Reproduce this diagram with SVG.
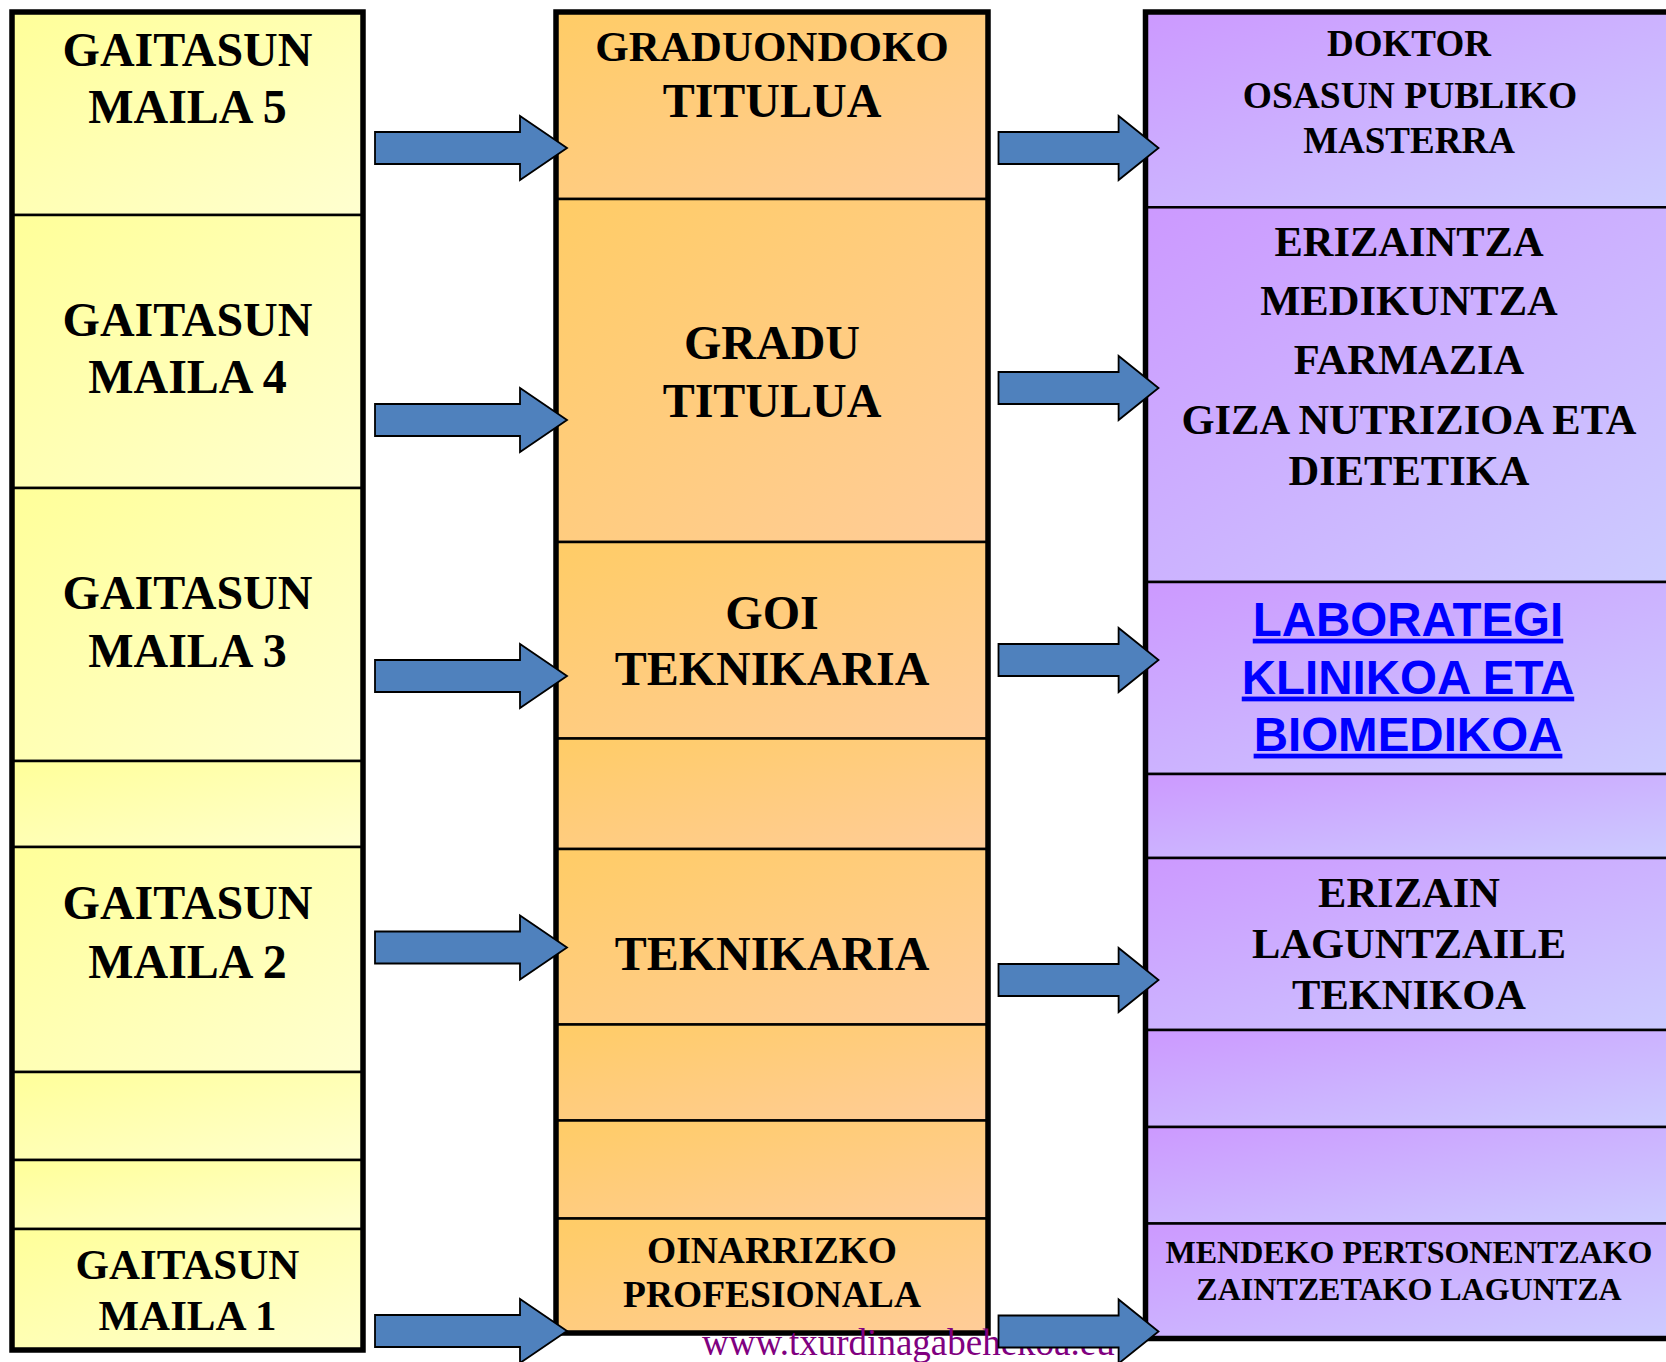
<svg xmlns="http://www.w3.org/2000/svg" width="1666" height="1362" viewBox="0 0 1666 1362">
<defs>
<linearGradient id="gY" x1="0" y1="0" x2="1" y2="1"><stop offset="0" stop-color="#FFFF99"/><stop offset="1" stop-color="#FFFFD0"/></linearGradient>
<linearGradient id="gO" x1="0" y1="0" x2="1" y2="1"><stop offset="0" stop-color="#FFCC66"/><stop offset="1" stop-color="#FFCC99"/></linearGradient>
<linearGradient id="gP" x1="0" y1="0" x2="1" y2="1"><stop offset="0" stop-color="#CC99FF"/><stop offset="1" stop-color="#CCCCFF"/></linearGradient>
<style>
.cy{fill:url(#gY);stroke:#000;stroke-width:2.5}
.co{fill:url(#gO);stroke:#000;stroke-width:2.5}
.cp{fill:url(#gP);stroke:#000;stroke-width:2.5}
.frame{fill:none;stroke:#000;stroke-width:5.5}
.t{font-family:"Liberation Serif","Times New Roman",serif;font-weight:bold;fill:#000;text-anchor:middle}
.l{font-family:"Liberation Sans",Arial,sans-serif;font-weight:bold;fill:#0000FF;text-anchor:middle;text-decoration:underline}
.arr{fill:#4F81BD;stroke:#000;stroke-width:1.8;stroke-linejoin:miter}
.wm{font-family:"Liberation Serif","Times New Roman",serif;fill:#800080;font-size:37px}
</style>
</defs>
<rect width="1666" height="1362" fill="#fff"/>

<!-- Left column -->
<g id="left-column">
<g id="maila5"><rect class="cy" x="12" y="12" width="351" height="203"/>
<text class="t" font-size="48" x="187.5" y="65.7">GAITASUN</text><text class="t" font-size="48" x="187.5" y="123.3">MAILA 5</text></g>
<g id="maila4"><rect class="cy" x="12" y="215" width="351" height="273"/>
<text class="t" font-size="48" x="187.5" y="335.7">GAITASUN</text><text class="t" font-size="48" x="187.5" y="393.3">MAILA 4</text></g>
<g id="maila3"><rect class="cy" x="12" y="488" width="351" height="273"/>
<text class="t" font-size="48" x="187.5" y="608.6">GAITASUN</text><text class="t" font-size="48" x="187.5" y="666.8">MAILA 3</text></g>
<g id="left-empty1"><rect class="cy" x="12" y="761" width="351" height="86"/></g>
<g id="maila2"><rect class="cy" x="12" y="847" width="351" height="225"/>
<text class="t" font-size="48" x="187.5" y="919.3">GAITASUN</text><text class="t" font-size="48" x="187.5" y="977.5">MAILA 2</text></g>
<g id="left-empty2"><rect class="cy" x="12" y="1072" width="351" height="88"/></g>
<g id="left-empty3"><rect class="cy" x="12" y="1160" width="351" height="69"/></g>
<g id="maila1"><rect class="cy" x="12" y="1229" width="351" height="121"/>
<text class="t" font-size="43" x="187.5" y="1279">GAITASUN</text><text class="t" font-size="43" x="187.5" y="1330">MAILA 1</text></g>
<rect class="frame" x="12" y="12" width="351" height="1338"/>
</g>

<!-- Middle column -->
<g id="middle-column">
<g id="graduondoko"><rect class="co" x="556" y="12" width="432" height="187"/>
<text class="t" font-size="43" x="772" y="61">GRADUONDOKO</text><text class="t" font-size="48" x="772" y="117.3">TITULUA</text></g>
<g id="gradu"><rect class="co" x="556" y="199" width="432" height="343"/>
<text class="t" font-size="48" x="772" y="359">GRADU</text><text class="t" font-size="48" x="772" y="416.7">TITULUA</text></g>
<g id="goi-teknikaria"><rect class="co" x="556" y="542" width="432" height="196.5"/>
<text class="t" font-size="48" x="772" y="628.6">GOI</text><text class="t" font-size="48" x="772" y="685.4">TEKNIKARIA</text></g>
<g id="mid-empty1"><rect class="co" x="556" y="738.5" width="432" height="110.5"/></g>
<g id="teknikaria"><rect class="co" x="556" y="849" width="432" height="175.5"/>
<text class="t" font-size="48" x="772" y="970.4">TEKNIKARIA</text></g>
<g id="mid-empty2"><rect class="co" x="556" y="1024.5" width="432" height="96"/></g>
<g id="mid-empty3"><rect class="co" x="556" y="1120.5" width="432" height="98"/></g>
<g id="oinarrizko"><rect class="co" x="556" y="1218.5" width="432" height="114.5"/>
<text class="t" font-size="37.5" x="772" y="1262.7">OINARRIZKO</text><text class="t" font-size="37.5" x="772" y="1307.3">PROFESIONALA</text></g>
<rect class="frame" x="556" y="12" width="432" height="1321"/>
</g>

<!-- Right column -->
<g id="right-column">
<g id="doktor"><rect class="cp" x="1145.5" y="12" width="535" height="195.3"/>
<text class="t" font-size="37" x="1409" y="56">DOKTOR</text><text class="t" font-size="37.5" x="1410" y="108.3">OSASUN PUBLIKO</text><text class="t" font-size="37" x="1409" y="152.7">MASTERRA</text></g>
<g id="graduak"><rect class="cp" x="1145.5" y="207.3" width="535" height="374.7"/>
<text class="t" font-size="42.5" x="1409" y="256">ERIZAINTZA</text><text class="t" font-size="42.5" x="1409" y="315">MEDIKUNTZA</text><text class="t" font-size="42.5" x="1409" y="374">FARMAZIA</text><text class="t" font-size="42.5" x="1409" y="434">GIZA NUTRIZIOA ETA</text><text class="t" font-size="42.5" x="1409" y="485.3">DIETETIKA</text></g>
<g id="laborategi"><rect class="cp" x="1145.5" y="582" width="535" height="192"/>
<text class="l" font-size="47.5" x="1408" y="635.7">LABORATEGI</text><text class="l" font-size="47.5" x="1408" y="693.6">KLINIKOA ETA</text><text class="l" font-size="47.5" x="1408" y="750.7">BIOMEDIKOA</text></g>
<g id="right-empty1"><rect class="cp" x="1145.5" y="774" width="535" height="84"/></g>
<g id="erizain"><rect class="cp" x="1145.5" y="858" width="535" height="172"/>
<text class="t" font-size="42.5" x="1409" y="906.8">ERIZAIN</text><text class="t" font-size="42.5" x="1409" y="957.9">LAGUNTZAILE</text><text class="t" font-size="42.5" x="1409" y="1009">TEKNIKOA</text></g>
<g id="right-empty2"><rect class="cp" x="1145.5" y="1030" width="535" height="97"/></g>
<g id="right-empty3"><rect class="cp" x="1145.5" y="1127" width="535" height="96.5"/></g>
<g id="mendeko"><rect class="cp" x="1145.5" y="1223.5" width="535" height="115"/>
<text class="t" font-size="32" x="1409" y="1263.3">MENDEKO PERTSONENTZAKO</text><text class="t" font-size="32" x="1409" y="1300">ZAINTZETAKO LAGUNTZA</text></g>
<rect class="frame" x="1145.5" y="12" width="535" height="1326.5"/>
</g>

<text class="wm" x="702" y="1355">www.txurdinagabehekoa.eu</text>

<!-- Connectors -->
<g id="connectors">
<path class="arr" d="M375,132 H520 V116 L567,148 L520,180 V164 H375 Z"/>
<path class="arr" d="M375,404 H520 V388 L567,420 L520,452 V436 H375 Z"/>
<path class="arr" d="M375,660 H520 V644 L567,676 L520,708 V692 H375 Z"/>
<path class="arr" d="M375,931.5 H520 V915.5 L567,947.5 L520,979.5 V963.5 H375 Z"/>
<path class="arr" d="M375,1315 H520 V1299 L567,1331 L520,1363 V1347 H375 Z"/>
<path class="arr" d="M998.5,132 H1118.6 V116 L1158.5,148 L1118.6,180 V164 H998.5 Z"/>
<path class="arr" d="M998.5,372 H1118.6 V356 L1158.5,388 L1118.6,420 V404 H998.5 Z"/>
<path class="arr" d="M998.5,644 H1118.6 V628 L1158.5,660 L1118.6,692 V676 H998.5 Z"/>
<path class="arr" d="M998.5,964 H1118.6 V948 L1158.5,980 L1118.6,1012 V996 H998.5 Z"/>
<path class="arr" d="M998.5,1315.5 H1118.6 V1299.5 L1158.5,1331.5 L1118.6,1363.5 V1347.5 H998.5 Z"/>
</g>
</svg>
